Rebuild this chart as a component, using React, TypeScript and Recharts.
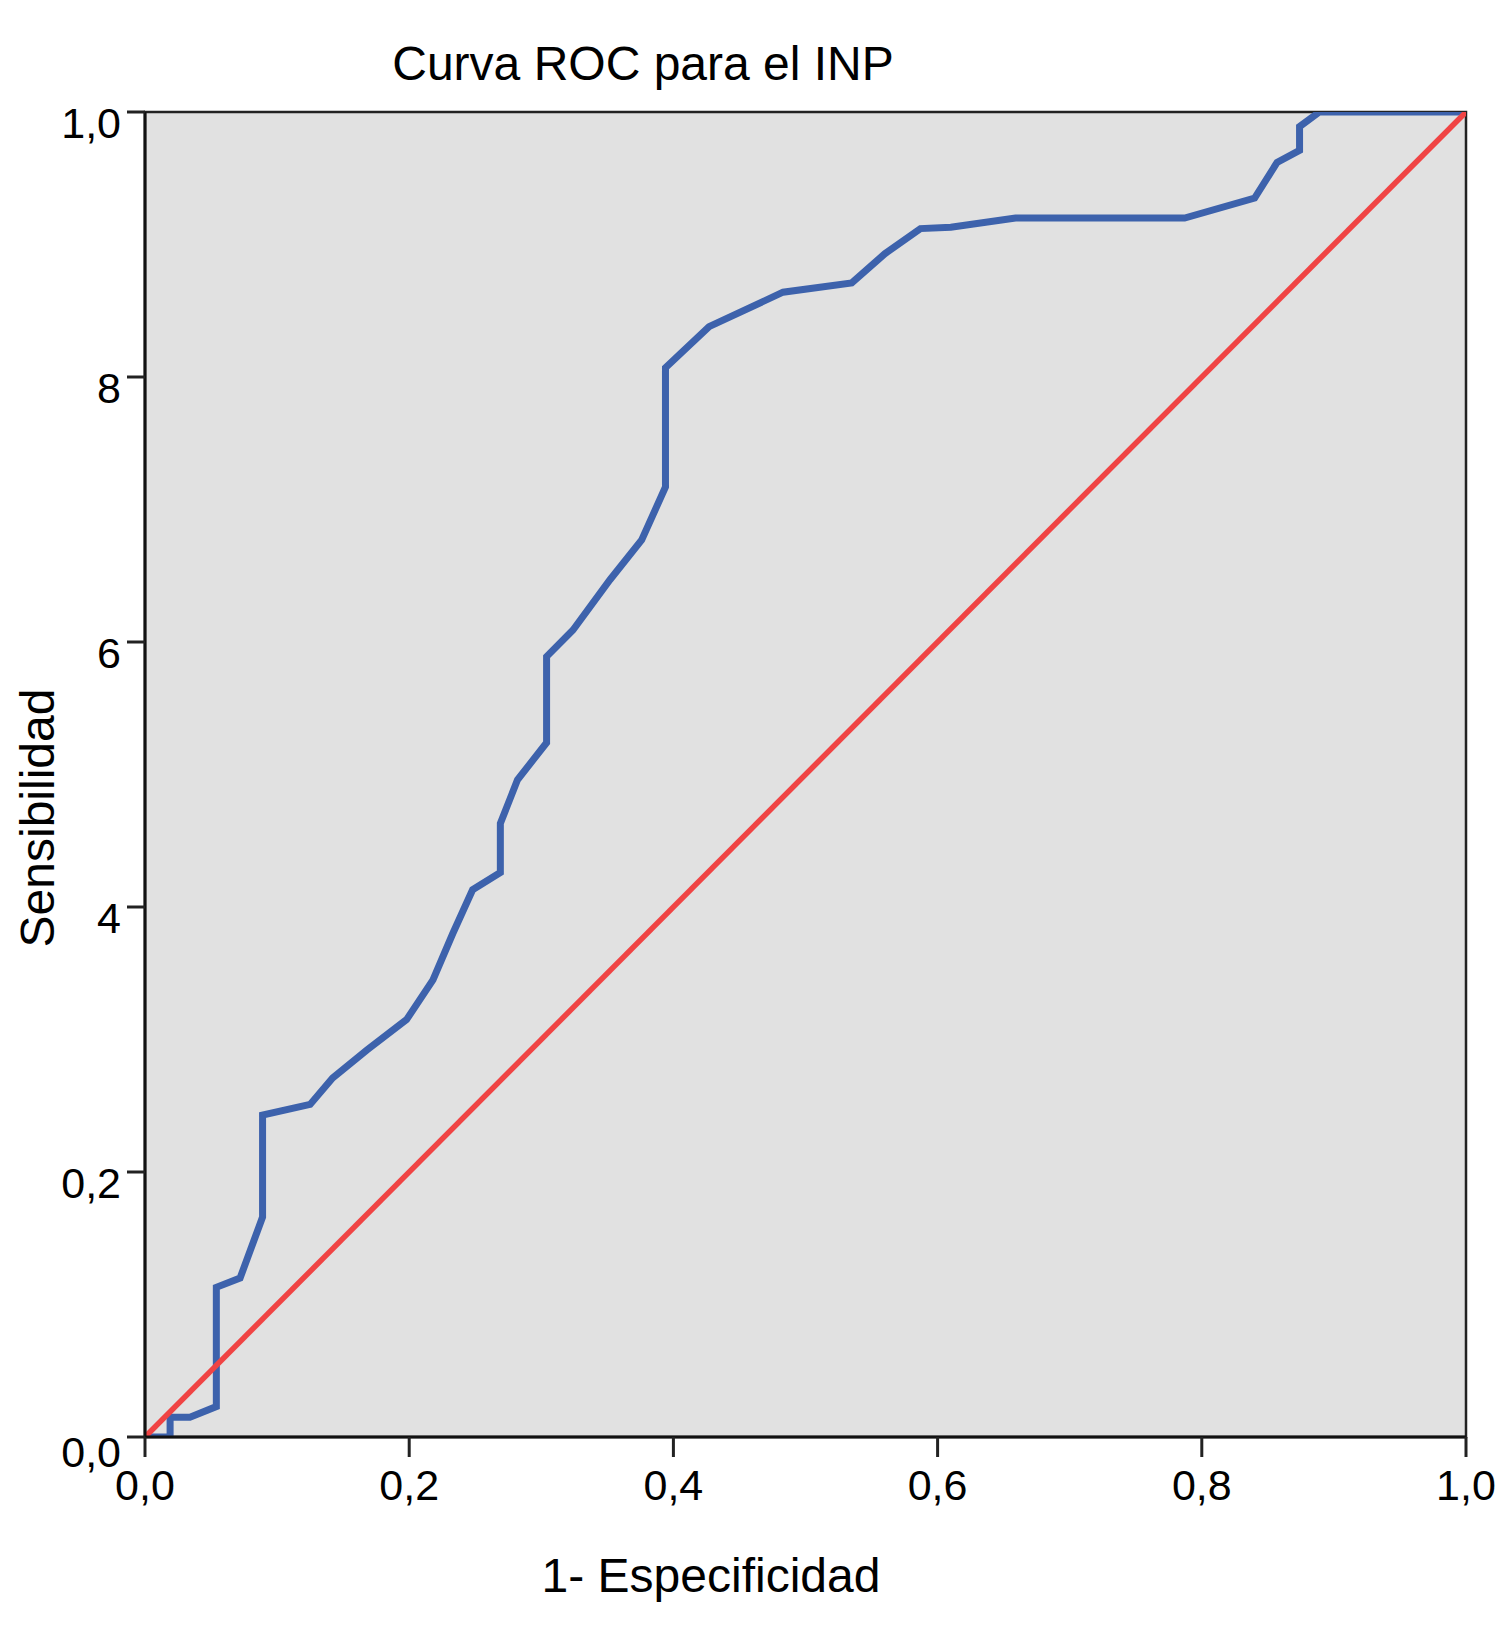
import React from 'react';
import { LineChart, Line, XAxis, YAxis, ReferenceArea } from 'recharts';

// ROC curve points (1 - specificity, sensitivity)
const fpr = [
  0, 0.019, 0.019, 0.034, 0.054, 0.054, 0.072, 0.089, 0.089, 0.125,
  0.142, 0.168, 0.198, 0.218, 0.233, 0.248, 0.269, 0.269, 0.282, 0.304,
  0.304, 0.324, 0.352, 0.376, 0.394, 0.394, 0.427, 0.483, 0.535, 0.56,
  0.587, 0.61, 0.659, 0.787, 0.84, 0.857, 0.874, 0.874, 0.889, 1,
];
const tpr = [
  0, 0, 0.015, 0.015, 0.023, 0.113, 0.12, 0.166, 0.243, 0.251,
  0.271, 0.292, 0.315, 0.345, 0.38, 0.413, 0.426, 0.463, 0.496, 0.524,
  0.589, 0.609, 0.647, 0.677, 0.717, 0.807, 0.838, 0.864, 0.871, 0.893,
  0.912, 0.913, 0.92, 0.92, 0.935, 0.962, 0.971, 0.989, 1, 1,
];

// reference diagonal
const diagX = [0, 1];
const diagY = [0, 1];

const tickValues = [0, 0.2, 0.4, 0.6, 0.8, 1];
const xTickLabels = ['0,0', '0,2', '0,4', '0,6', '0,8', '1,0'];
const yTickLabels = ['0,0', '0,2', '4', '6', '8', '1,0'];

const title = 'Curva ROC para el INP';
const xTitle = '1- Especificidad';
const yTitle = 'Sensibilidad';

const rocData = fpr.map((x, i) => ({ x, y: tpr[i] }));
const diagData = diagX.map((x, i) => ({ x, y: diagY[i] }));

const FONT = '"Liberation Sans", Arial, Helvetica, sans-serif';

const XTick = ({ x, y, index }: any) => (
  <text x={x} y={y} dy={41} textAnchor="middle" fontFamily={FONT} fontSize={43} fill="#000">
    {xTickLabels[index]}
  </text>
);

const YTick = ({ x, y, index }: any) => (
  <text x={x} y={y} dy={index === 0 ? 30 : 26} textAnchor="end" fontFamily={FONT} fontSize={43} fill="#000">
    {yTickLabels[index]}
  </text>
);

export default function App() {
  return (
    <div style={{ position: 'relative', width: 1500, height: 1645, background: '#fff' }}>
      <style>{'body{margin:0}'}</style>
      <LineChart width={1500} height={1645} margin={{ top: 112, right: 34, left: 0, bottom: 0 }}>
        <XAxis
          dataKey="x" type="number" domain={[0, 1]} ticks={tickValues}
          height={208} tickSize={20} tickMargin={2}
          axisLine={{ stroke: '#111', strokeWidth: 3 }}
          tickLine={{ stroke: '#222', strokeWidth: 3 }}
          tick={<XTick />} allowDataOverflow
        />
        <YAxis
          dataKey="y" type="number" domain={[0, 1]} ticks={tickValues}
          width={145} tickSize={18} tickMargin={6}
          axisLine={{ stroke: '#111', strokeWidth: 3 }}
          tickLine={{ stroke: '#222', strokeWidth: 3 }}
          tick={<YTick />} allowDataOverflow
        />
        <ReferenceArea x1={0} x2={1} y1={0} y2={1} fill="#e1e1e1" fillOpacity={1} stroke="#222" strokeWidth={2.5} />
        <Line data={rocData} dataKey="y" type="linear" stroke="#3d62ac" strokeWidth={7} dot={false} isAnimationActive={false} />
        <Line data={diagData} dataKey="y" type="linear" stroke="#f04444" strokeWidth={5.5} dot={false} isAnimationActive={false} />
      </LineChart>
      <svg width={1500} height={1645} style={{ position: 'absolute', left: 0, top: 0, pointerEvents: 'none' }}>
        <text x={643} y={80} textAnchor="middle" fontFamily={FONT} fontSize={48} fill="#000">{title}</text>
        <text x={711} y={1592} textAnchor="middle" fontFamily={FONT} fontSize={48} fill="#000">{xTitle}</text>
        <text transform="translate(54,818) rotate(-90)" textAnchor="middle" fontFamily={FONT} fontSize={48} fill="#000">{yTitle}</text>
      </svg>
    </div>
  );
}
